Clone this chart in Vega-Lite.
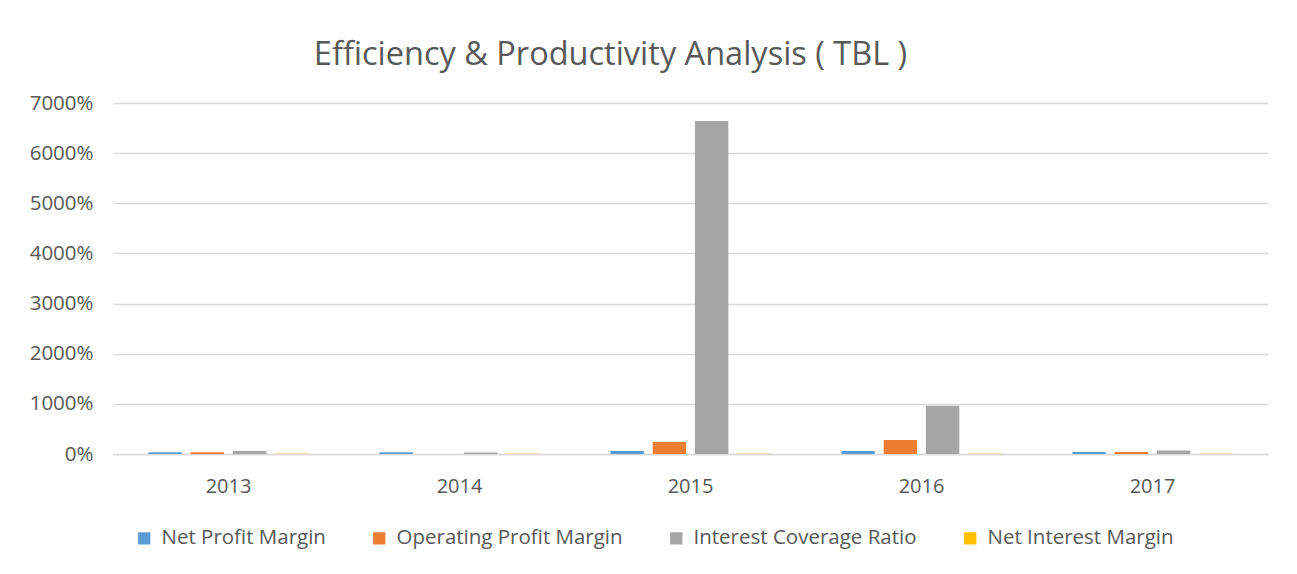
{
  "$schema": "https://vega.github.io/schema/vega-lite/v6.json",
  "autosize": "none",
  "width": 1155,
  "height": 351,
  "padding": {"left": 113, "top": 103, "right": 29, "bottom": 120},
  "background": "white",
  "config": {
    "font": "Open Sans",
    "view": {"stroke": null}
  },
  "title": {
    "text": "Efficiency & Productivity Analysis ( TBL )",
    "fontSize": 32.5,
    "fontWeight": "normal",
    "color": "#595959",
    "font": "Open Sans",
    "anchor": "middle",
    "dx": -80,
    "offset": 22
  },
  "data": {
    "values": [
      {"year": "2013", "series": "Net Profit Margin", "value": 0.35},
      {"year": "2013", "series": "Operating Profit Margin", "value": 0.35},
      {"year": "2013", "series": "Interest Coverage Ratio", "value": 0.6},
      {"year": "2013", "series": "Net Interest Margin", "value": 0.03},
      {"year": "2014", "series": "Net Profit Margin", "value": 0.35},
      {"year": "2014", "series": "Operating Profit Margin", "value": 0.0},
      {"year": "2014", "series": "Interest Coverage Ratio", "value": 0.3},
      {"year": "2014", "series": "Net Interest Margin", "value": 0.03},
      {"year": "2015", "series": "Net Profit Margin", "value": 0.6},
      {"year": "2015", "series": "Operating Profit Margin", "value": 2.4},
      {"year": "2015", "series": "Interest Coverage Ratio", "value": 66.4},
      {"year": "2015", "series": "Net Interest Margin", "value": 0.03},
      {"year": "2016", "series": "Net Profit Margin", "value": 0.6},
      {"year": "2016", "series": "Operating Profit Margin", "value": 2.8},
      {"year": "2016", "series": "Interest Coverage Ratio", "value": 9.6},
      {"year": "2016", "series": "Net Interest Margin", "value": 0.03},
      {"year": "2017", "series": "Net Profit Margin", "value": 0.4},
      {"year": "2017", "series": "Operating Profit Margin", "value": 0.4},
      {"year": "2017", "series": "Interest Coverage Ratio", "value": 0.7},
      {"year": "2017", "series": "Net Interest Margin", "value": 0.03}
    ]
  },
  "mark": {"type": "bar"},
  "encoding": {
    "x": {
      "field": "year",
      "type": "nominal",
      "scale": {"paddingInner": 0.27, "paddingOuter": 0.135},
      "axis": {
        "title": null,
        "labelAngle": 0,
        "labelFontSize": 20,
        "labelColor": "#595959",
        "labelPadding": 22,
        "ticks": false,
        "domainColor": "#d9d9d9",
        "domainWidth": 1.5
      }
    },
    "xOffset": {
      "field": "series",
      "type": "nominal",
      "sort": ["Net Profit Margin", "Operating Profit Margin", "Interest Coverage Ratio", "Net Interest Margin"],
      "scale": {"paddingInner": 0.21, "paddingOuter": 0.1}
    },
    "y": {
      "field": "value",
      "type": "quantitative",
      "scale": {"domain": [0, 70]},
      "axis": {
        "title": null,
        "values": [0, 10, 20, 30, 40, 50, 60, 70],
        "format": ".0%",
        "labelFontSize": 20.5,
        "labelColor": "#595959",
        "labelPadding": 20,
        "ticks": false,
        "domain": false,
        "gridColor": "#d9d9d9",
        "gridWidth": 1.5
      }
    },
    "color": {
      "field": "series",
      "type": "nominal",
      "sort": ["Net Profit Margin", "Operating Profit Margin", "Interest Coverage Ratio", "Net Interest Margin"],
      "scale": {
        "domain": ["Net Profit Margin", "Operating Profit Margin", "Interest Coverage Ratio", "Net Interest Margin"],
        "range": ["#5b9bd5", "#ed7d31", "#a5a5a5", "#ffc000"]
      },
      "legend": {
        "title": null,
        "orient": "none",
        "legendX": 21,
        "legendY": 425,
        "direction": "horizontal",
        "symbolType": "square",
        "symbolSize": 150,
        "symbolStrokeWidth": 0,
        "labelFontSize": 20.5,
        "labelColor": "#595959",
        "labelOffset": 7,
        "columnPadding": 43,
        "labelLimit": 400
      }
    }
  }
}
